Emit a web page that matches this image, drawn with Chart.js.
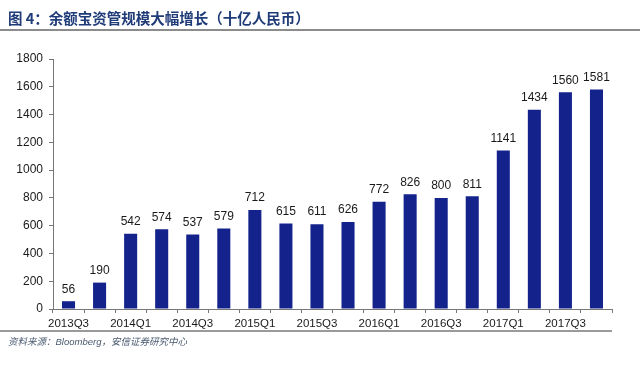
<!DOCTYPE html>
<html>
<head>
<meta charset="utf-8">
<script src="https://cdn.jsdelivr.net/npm/chart.js@4/dist/chart.umd.min.js"></script>
<style>
html,body{margin:0;padding:0;background:#fff;}
#wrap{position:relative;width:640px;height:375px;overflow:hidden;}
#title{position:absolute;left:8px;top:9px;font-family:"Noto Sans CJK SC",sans-serif;font-weight:bold;font-size:14.5px;color:#1f3b78;white-space:nowrap;line-height:18px;}
#tline{position:absolute;left:0;top:29px;width:640px;height:2px;background:#8c8c8c;}
#sline{position:absolute;left:0;top:330px;width:612px;height:1.5px;background:#9a9a9a;}
#source{position:absolute;left:8px;top:334px;font-family:"Noto Sans CJK SC",sans-serif;font-style:italic;font-size:9.5px;color:#4a5a70;white-space:nowrap;line-height:14px;}
#c{position:absolute;left:0;top:0;}
</style>
</head>
<body>
<div id="wrap">
<canvas id="c" width="640" height="375"></canvas>
<div id="title">图 4：余额宝资管规模大幅增长（十亿人民币）</div>
<div id="tline"></div>
<div id="sline"></div>
<div id="source">资料来源：<span style="font-family:'Liberation Sans',Arial,sans-serif;">Bloomberg</span>，安信证券研究中心</div>
</div>
<script>
const categories = ["2013Q3","2013Q4","2014Q1","2014Q2","2014Q3","2014Q4","2015Q1","2015Q2","2015Q3","2015Q4","2016Q1","2016Q2","2016Q3","2016Q4","2017Q1","2017Q2","2017Q3","2017Q4"];
const aum = [56,190,542,574,537,579,712,615,611,626,772,826,800,811,1141,1434,1560,1581];
const yTicks = [0,200,400,600,800,1000,1200,1400,1600,1800];

const valueLabels = {
  id:'valueLabels',
  afterDatasetsDraw(chart){
    const ctx = chart.ctx;
    const meta = chart.getDatasetMeta(0);
    ctx.save();
    ctx.font = '12px "Liberation Sans", Arial, sans-serif';
    ctx.fillStyle = '#1a1a1a';
    ctx.textAlign = 'center';
    ctx.textBaseline = 'bottom';
    meta.data.forEach((bar,i)=>{
      ctx.fillText(String(aum[i]), bar.x, bar.y - 6);
    });
    ctx.restore();
  }
};

new Chart(document.getElementById('c'), {
  type:'bar',
  data:{labels:categories,datasets:[{data:aum,backgroundColor:'#14238c',borderWidth:0,barPercentage:0.84,categoryPercentage:0.5}]},
  options:{
    responsive:false,animation:false,
    layout:{padding:{top:59,right:28,bottom:0,left:0}},
    plugins:{legend:{display:false},tooltip:{enabled:false},title:{display:false}},
    scales:{
      x:{
        offset:true,
        grid:{display:true,drawOnChartArea:false,offset:true,tickLength:4,color:'#777',lineWidth:1},
        border:{display:true,color:'#777',width:1},
        ticks:{autoSkip:false,maxRotation:0,minRotation:0,padding:4,color:'#1a1a1a',font:{family:'"Liberation Sans", Arial, sans-serif',size:11.5},
          callback:function(v,i){return i%2===0?categories[i]:'';}},
        afterFit(s){s.height=66;}
      },
      y:{
        min:0,max:1800,
        afterBuildTicks(s){s.ticks=yTicks.map(v=>({value:v}));},
        grid:{display:true,drawOnChartArea:false,tickLength:4,color:'#777',lineWidth:1},
        border:{display:true,color:'#777',width:1},
        ticks:{padding:6,color:'#1a1a1a',font:{family:'"Liberation Sans", Arial, sans-serif',size:12},
          callback:function(v){return String(v);}},
        afterFit(s){s.width=53;}
      }
    }
  },
  plugins:[valueLabels]
});
</script>
</body>
</html>
